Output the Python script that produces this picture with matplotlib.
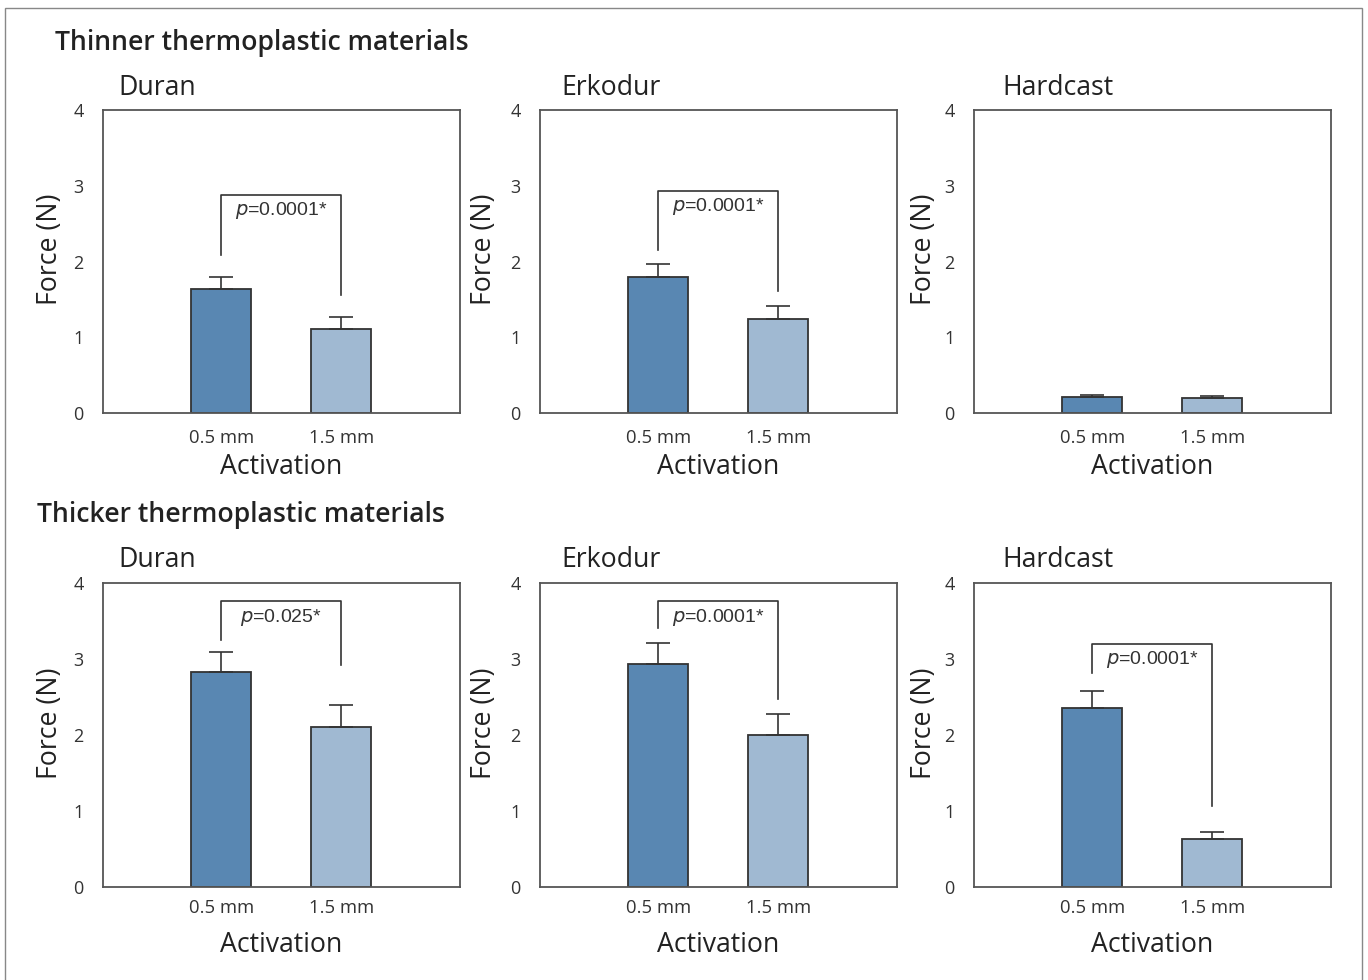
import matplotlib.pyplot as plt
from matplotlib.patches import Rectangle

plt.rcParams['font.family'] = ['Open Sans', 'DejaVu Sans']

materials = ['Duran', 'Erkodur', 'Hardcast']
activations = ['0.5 mm', '1.5 mm']

# thinner sheets: mean force and SD per activation
thin_05 = [1.64, 1.80, 0.21]
thin_05_sd = [0.16, 0.17, 0.03]
thin_15 = [1.11, 1.24, 0.20]
thin_15_sd = [0.16, 0.17, 0.03]
thin_p = ['0.0001*', '0.0001*', None]
thin_bracket = [(2.88, 2.09, 1.56), (2.93, 2.15, 1.61), None]

# thicker sheets
thick_05 = [2.83, 2.93, 2.36]
thick_05_sd = [0.26, 0.28, 0.22]
thick_15 = [2.11, 2.00, 0.63]
thick_15_sd = [0.28, 0.28, 0.09]
thick_p = ['0.025*', '0.0001*', '0.0001*']
thick_bracket = [(3.76, 3.25, 2.92), (3.76, 3.41, 2.47), (3.20, 2.82, 1.07)]

dark = '#5987b2'
light = '#a0b9d2'
edge = '#333333'
grey = '#555555'

fig = plt.figure(figsize=(13.68, 9.8), dpi=100)
fig.patches.append(Rectangle((5 / 1368, -0.05), 1357 / 1368, 1.05 - 8 / 980,
                             transform=fig.transFigure, fill=False,
                             edgecolor='#888888', lw=1.0))

lefts = [103, 540, 974]
ylab_x = [-0.109, -0.118, -0.101]
# bottom px, height px, title y px, tick pad, xlabel pad
rows = [
    (413, 303, 88, 11.5, 4.5, thin_05, thin_05_sd, thin_15, thin_15_sd, thin_p, thin_bracket),
    (887, 304, 560, 8.5, 10, thick_05, thick_05_sd, thick_15, thick_15_sd, thick_p, thick_bracket),
]
title_x = [118, 561, 1002]

for bot, h, ty, tpad, lpad, m05, s05, m15, s15, pvals, brackets in rows:
    for c, name in enumerate(materials):
        ax = fig.add_axes([lefts[c] / 1368, 1 - bot / 980, 357 / 1368, h / 980])
        ax.bar([0, 1], [m05[c], m15[c]], width=0.5, color=[dark, light],
               edgecolor=edge, linewidth=1.3, zorder=2)
        ax.errorbar([0, 1], [m05[c], m15[c]], yerr=[[0, 0], [s05[c], s15[c]]],
                    fmt='none', ecolor=edge, elinewidth=1.2, capsize=8.5,
                    capthick=1.2, zorder=3)
        ax.set_xlim(-0.985, 1.99)
        ax.set_ylim(0, 4)
        ax.set_yticks([0, 1, 2, 3, 4])
        ax.set_xticks([0, 1])
        ax.set_xticklabels(activations)
        ax.tick_params(axis='y', length=0, pad=14, labelsize=13, labelcolor='#333333')
        ax.tick_params(axis='x', length=0, pad=tpad, labelsize=13.3, labelcolor='#333333')
        for sp in ax.spines.values():
            sp.set_color(grey)
            sp.set_linewidth(1.3)
        ax.set_xlabel('Activation', fontsize=19.2, color='#222222', labelpad=lpad)
        ax.set_ylabel('Force (N)', fontsize=19.2, color='#222222')
        ax.yaxis.set_label_coords(ylab_x[c], 0.54)
        fig.text(title_x[c] / 1368, 1 - ty / 980, name, fontsize=19.2,
                 color='#222222', ha='left', va='center')
        if brackets[c] is not None:
            top, yl, yr = brackets[c]
            ax.plot([0, 0, 1, 1], [yl, top, top, yr], color=edge, lw=1.2, zorder=3)
            ax.text(0.5, top - 0.21, '$\\it{p}$=' + pvals[c], ha='center', va='center',
                    fontsize=14, color='#333333', family=['Liberation Sans', 'DejaVu Sans'])

fig.text(55 / 1368, 1 - 43 / 980, 'Thinner thermoplastic materials', fontsize=19.2,
         fontweight='semibold', color='#222222', ha='left', va='center')
fig.text(37 / 1368, 1 - 515 / 980, 'Thicker thermoplastic materials', fontsize=19.2,
         fontweight='semibold', color='#222222', ha='left', va='center')

fig.savefig('out.png', dpi=100)
